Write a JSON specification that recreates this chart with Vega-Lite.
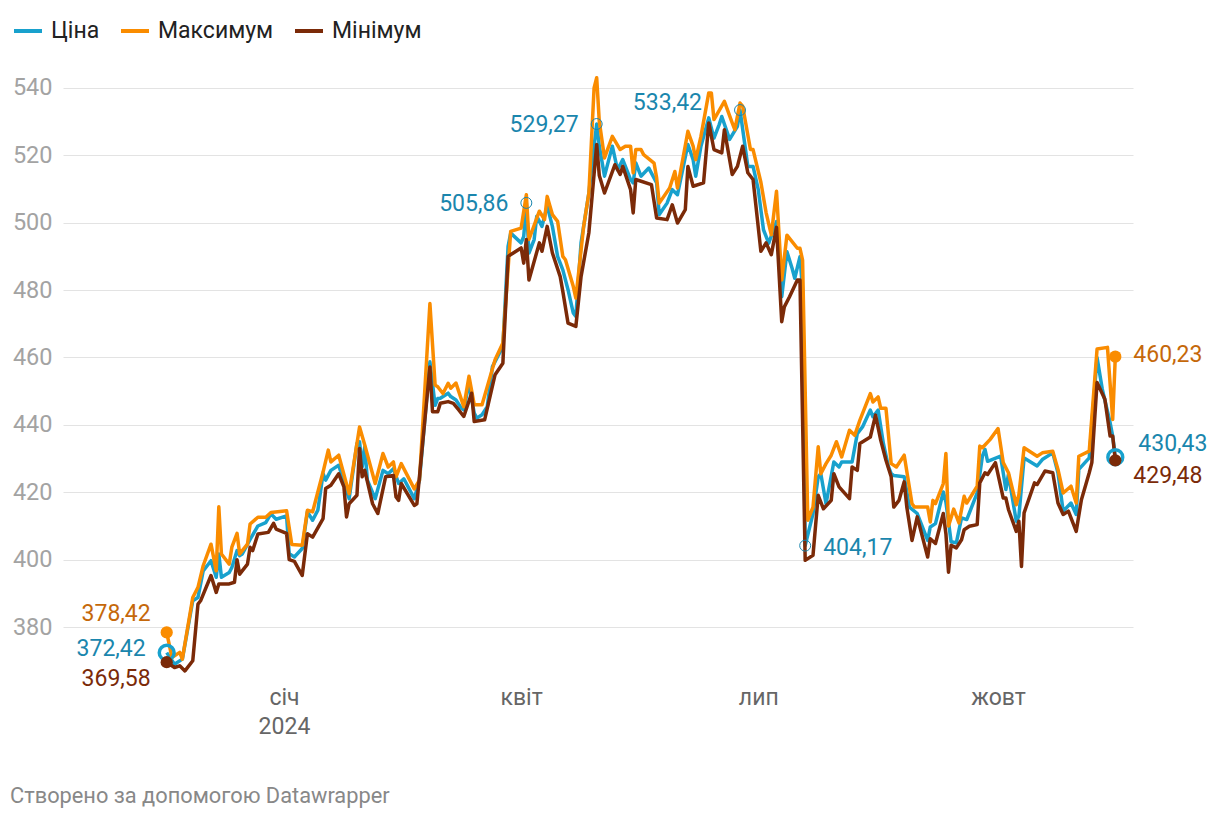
{
  "$schema": "https://vega.github.io/schema/vega-lite/v6.json",
  "width": 1070,
  "height": 610,
  "autosize": "none",
  "padding": {"left": 63, "top": 70, "right": 87, "bottom": 136},
  "background": "white",
  "config": {
    "font": "Roboto",
    "view": {"stroke": null},
    "locale": {
      "number": {"decimal": ",", "thousands": " ", "grouping": [3], "currency": ["", " ₴"]}
    }
  },
  "title": {
    "text": "Створено за допомогою Datawrapper",
    "orient": "bottom",
    "anchor": "start",
    "frame": "group",
    "dx": -53,
    "offset": 48,
    "font": "Roboto",
    "fontSize": 21.8,
    "fontWeight": "normal",
    "color": "#888888"
  },
  "datasets": {
    "series": [
      {"d": "2023-11-17", "s": "Ціна", "v": 372.42},
      {"d": "2023-11-20", "s": "Ціна", "v": 369},
      {"d": "2023-11-23", "s": "Ціна", "v": 370.5},
      {"d": "2023-11-27", "s": "Ціна", "v": 387.8},
      {"d": "2023-11-29", "s": "Ціна", "v": 388.8},
      {"d": "2023-12-01", "s": "Ціна", "v": 396.7},
      {"d": "2023-12-04", "s": "Ціна", "v": 399.7},
      {"d": "2023-12-06", "s": "Ціна", "v": 394.8},
      {"d": "2023-12-07", "s": "Ціна", "v": 401.7},
      {"d": "2023-12-08", "s": "Ціна", "v": 394.8},
      {"d": "2023-12-11", "s": "Ціна", "v": 396.2},
      {"d": "2023-12-12", "s": "Ціна", "v": 397.7},
      {"d": "2023-12-14", "s": "Ціна", "v": 402.7},
      {"d": "2023-12-15", "s": "Ціна", "v": 401.2},
      {"d": "2023-12-16", "s": "Ціна", "v": 401.7},
      {"d": "2023-12-19", "s": "Ціна", "v": 406},
      {"d": "2023-12-22", "s": "Ціна", "v": 410},
      {"d": "2023-12-25", "s": "Ціна", "v": 411},
      {"d": "2023-12-27", "s": "Ціна", "v": 413.6},
      {"d": "2023-12-29", "s": "Ціна", "v": 412},
      {"d": "2024-01-02", "s": "Ціна", "v": 413},
      {"d": "2024-01-03", "s": "Ціна", "v": 401.8},
      {"d": "2024-01-05", "s": "Ціна", "v": 400.8},
      {"d": "2024-01-08", "s": "Ціна", "v": 403.3},
      {"d": "2024-01-10", "s": "Ціна", "v": 414.2},
      {"d": "2024-01-12", "s": "Ціна", "v": 411.7},
      {"d": "2024-01-14", "s": "Ціна", "v": 414.7},
      {"d": "2024-01-16", "s": "Ціна", "v": 425.5},
      {"d": "2024-01-17", "s": "Ціна", "v": 423.6},
      {"d": "2024-01-19", "s": "Ціна", "v": 426.5},
      {"d": "2024-01-22", "s": "Ціна", "v": 428},
      {"d": "2024-01-26", "s": "Ціна", "v": 418.1},
      {"d": "2024-01-29", "s": "Ціна", "v": 434.5},
      {"d": "2024-01-30", "s": "Ціна", "v": 435},
      {"d": "2024-01-31", "s": "Ціна", "v": 427.5},
      {"d": "2024-02-01", "s": "Ціна", "v": 433.5},
      {"d": "2024-02-02", "s": "Ціна", "v": 423.6},
      {"d": "2024-02-05", "s": "Ціна", "v": 418.1},
      {"d": "2024-02-08", "s": "Ціна", "v": 426.5},
      {"d": "2024-02-10", "s": "Ціна", "v": 425.5},
      {"d": "2024-02-12", "s": "Ціна", "v": 427},
      {"d": "2024-02-14", "s": "Ціна", "v": 422.6},
      {"d": "2024-02-16", "s": "Ціна", "v": 424},
      {"d": "2024-02-20", "s": "Ціна", "v": 418.1},
      {"d": "2024-02-22", "s": "Ціна", "v": 423.6},
      {"d": "2024-02-26", "s": "Ціна", "v": 458.7},
      {"d": "2024-02-28", "s": "Ціна", "v": 445.8},
      {"d": "2024-02-29", "s": "Ціна", "v": 447.8},
      {"d": "2024-03-01", "s": "Ціна", "v": 447.9},
      {"d": "2024-03-04", "s": "Ціна", "v": 449.4},
      {"d": "2024-03-05", "s": "Ціна", "v": 448.4},
      {"d": "2024-03-07", "s": "Ціна", "v": 447.4},
      {"d": "2024-03-09", "s": "Ціна", "v": 445},
      {"d": "2024-03-10", "s": "Ціна", "v": 444.5},
      {"d": "2024-03-12", "s": "Ціна", "v": 452.4},
      {"d": "2024-03-14", "s": "Ціна", "v": 443.5},
      {"d": "2024-03-15", "s": "Ціна", "v": 442},
      {"d": "2024-03-17", "s": "Ціна", "v": 443},
      {"d": "2024-03-19", "s": "Ціна", "v": 445.4},
      {"d": "2024-03-21", "s": "Ціна", "v": 457.3},
      {"d": "2024-03-25", "s": "Ціна", "v": 463.3},
      {"d": "2024-03-27", "s": "Ціна", "v": 493},
      {"d": "2024-03-28", "s": "Ціна", "v": 496.9},
      {"d": "2024-04-01", "s": "Ціна", "v": 494},
      {"d": "2024-04-02", "s": "Ціна", "v": 495.9},
      {"d": "2024-04-03", "s": "Ціна", "v": 505.86},
      {"d": "2024-04-04", "s": "Ціна", "v": 491},
      {"d": "2024-04-06", "s": "Ціна", "v": 495},
      {"d": "2024-04-07", "s": "Ціна", "v": 501.9},
      {"d": "2024-04-09", "s": "Ціна", "v": 498.9},
      {"d": "2024-04-11", "s": "Ціна", "v": 505},
      {"d": "2024-04-13", "s": "Ціна", "v": 498.9},
      {"d": "2024-04-15", "s": "Ціна", "v": 490},
      {"d": "2024-04-17", "s": "Ціна", "v": 486},
      {"d": "2024-04-19", "s": "Ціна", "v": 480.1},
      {"d": "2024-04-21", "s": "Ціна", "v": 473.2},
      {"d": "2024-04-22", "s": "Ціна", "v": 472.2},
      {"d": "2024-04-24", "s": "Ціна", "v": 494},
      {"d": "2024-04-27", "s": "Ціна", "v": 508.8},
      {"d": "2024-04-29", "s": "Ціна", "v": 522.7},
      {"d": "2024-04-30", "s": "Ціна", "v": 529.27},
      {"d": "2024-05-01", "s": "Ціна", "v": 522.7},
      {"d": "2024-05-03", "s": "Ціна", "v": 513.8},
      {"d": "2024-05-06", "s": "Ціна", "v": 522.7},
      {"d": "2024-05-08", "s": "Ціна", "v": 515.7},
      {"d": "2024-05-10", "s": "Ціна", "v": 518.7},
      {"d": "2024-05-13", "s": "Ціна", "v": 512.8},
      {"d": "2024-05-14", "s": "Ціна", "v": 511.8},
      {"d": "2024-05-15", "s": "Ціна", "v": 517.7},
      {"d": "2024-05-17", "s": "Ціна", "v": 513.8},
      {"d": "2024-05-20", "s": "Ціна", "v": 516.2},
      {"d": "2024-05-23", "s": "Ціна", "v": 511.8},
      {"d": "2024-05-24", "s": "Ціна", "v": 502.4},
      {"d": "2024-05-27", "s": "Ціна", "v": 505.8},
      {"d": "2024-05-29", "s": "Ціна", "v": 509.8},
      {"d": "2024-05-31", "s": "Ціна", "v": 508.3},
      {"d": "2024-06-04", "s": "Ціна", "v": 523.2},
      {"d": "2024-06-06", "s": "Ціна", "v": 518.7},
      {"d": "2024-06-07", "s": "Ціна", "v": 513.8},
      {"d": "2024-06-09", "s": "Ціна", "v": 522.7},
      {"d": "2024-06-12", "s": "Ціна", "v": 531.1},
      {"d": "2024-06-14", "s": "Ціна", "v": 525.1},
      {"d": "2024-06-16", "s": "Ціна", "v": 529.1},
      {"d": "2024-06-17", "s": "Ціна", "v": 531.5},
      {"d": "2024-06-20", "s": "Ціна", "v": 524.7},
      {"d": "2024-06-23", "s": "Ціна", "v": 528.6},
      {"d": "2024-06-24", "s": "Ціна", "v": 533.42},
      {"d": "2024-06-27", "s": "Ціна", "v": 516.7},
      {"d": "2024-06-29", "s": "Ціна", "v": 516.7},
      {"d": "2024-07-01", "s": "Ціна", "v": 509.8},
      {"d": "2024-07-03", "s": "Ціна", "v": 497.9},
      {"d": "2024-07-05", "s": "Ціна", "v": 493.9},
      {"d": "2024-07-08", "s": "Ціна", "v": 500.3},
      {"d": "2024-07-10", "s": "Ціна", "v": 478},
      {"d": "2024-07-12", "s": "Ціна", "v": 491.4},
      {"d": "2024-07-14", "s": "Ціна", "v": 486.4},
      {"d": "2024-07-15", "s": "Ціна", "v": 483.5},
      {"d": "2024-07-17", "s": "Ціна", "v": 489.9},
      {"d": "2024-07-18", "s": "Ціна", "v": 480},
      {"d": "2024-07-19", "s": "Ціна", "v": 404.17},
      {"d": "2024-07-22", "s": "Ціна", "v": 413.7},
      {"d": "2024-07-24", "s": "Ціна", "v": 424.6},
      {"d": "2024-07-25", "s": "Ціна", "v": 425.5},
      {"d": "2024-07-27", "s": "Ціна", "v": 416.6},
      {"d": "2024-07-30", "s": "Ціна", "v": 429},
      {"d": "2024-08-01", "s": "Ціна", "v": 427.5},
      {"d": "2024-08-02", "s": "Ціна", "v": 429},
      {"d": "2024-08-06", "s": "Ціна", "v": 429},
      {"d": "2024-08-08", "s": "Ціна", "v": 437.4},
      {"d": "2024-08-10", "s": "Ціна", "v": 439.4},
      {"d": "2024-08-13", "s": "Ціна", "v": 444.4},
      {"d": "2024-08-14", "s": "Ціна", "v": 442.4},
      {"d": "2024-08-16", "s": "Ціна", "v": 444.4},
      {"d": "2024-08-18", "s": "Ціна", "v": 434.5},
      {"d": "2024-08-20", "s": "Ціна", "v": 427.5},
      {"d": "2024-08-21", "s": "Ціна", "v": 425.5},
      {"d": "2024-08-22", "s": "Ціна", "v": 425},
      {"d": "2024-08-26", "s": "Ціна", "v": 424.6},
      {"d": "2024-08-28", "s": "Ціна", "v": 415.6},
      {"d": "2024-08-31", "s": "Ціна", "v": 413.7},
      {"d": "2024-09-04", "s": "Ціна", "v": 405.7},
      {"d": "2024-09-05", "s": "Ціна", "v": 409.7},
      {"d": "2024-09-07", "s": "Ціна", "v": 410.7},
      {"d": "2024-09-10", "s": "Ціна", "v": 420.1},
      {"d": "2024-09-11", "s": "Ціна", "v": 417.1},
      {"d": "2024-09-13", "s": "Ціна", "v": 405.3},
      {"d": "2024-09-15", "s": "Ціна", "v": 405},
      {"d": "2024-09-17", "s": "Ціна", "v": 412.4},
      {"d": "2024-09-19", "s": "Ціна", "v": 411.9},
      {"d": "2024-09-23", "s": "Ціна", "v": 419.8},
      {"d": "2024-09-25", "s": "Ціна", "v": 430.7},
      {"d": "2024-09-26", "s": "Ціна", "v": 432.7},
      {"d": "2024-09-27", "s": "Ціна", "v": 429.2},
      {"d": "2024-10-02", "s": "Ціна", "v": 430.7},
      {"d": "2024-10-04", "s": "Ціна", "v": 420.8},
      {"d": "2024-10-05", "s": "Ціна", "v": 425.3},
      {"d": "2024-10-08", "s": "Ціна", "v": 411.4},
      {"d": "2024-10-09", "s": "Ціна", "v": 412.9},
      {"d": "2024-10-11", "s": "Ціна", "v": 430.2},
      {"d": "2024-10-16", "s": "Ціна", "v": 427.8},
      {"d": "2024-10-18", "s": "Ціна", "v": 429.7},
      {"d": "2024-10-22", "s": "Ціна", "v": 431.7},
      {"d": "2024-10-24", "s": "Ціна", "v": 425.8},
      {"d": "2024-10-26", "s": "Ціна", "v": 414.4},
      {"d": "2024-10-29", "s": "Ціна", "v": 416.8},
      {"d": "2024-10-31", "s": "Ціна", "v": 413.4},
      {"d": "2024-11-01", "s": "Ціна", "v": 426.8},
      {"d": "2024-11-05", "s": "Ціна", "v": 430.2},
      {"d": "2024-11-08", "s": "Ціна", "v": 460},
      {"d": "2024-11-10", "s": "Ціна", "v": 450.6},
      {"d": "2024-11-13", "s": "Ціна", "v": 440.7},
      {"d": "2024-11-14", "s": "Ціна", "v": 436.7},
      {"d": "2024-11-15", "s": "Ціна", "v": 430.43},

      {"d": "2023-11-17", "s": "Максимум", "v": 378.42},
      {"d": "2023-11-19", "s": "Максимум", "v": 371},
      {"d": "2023-11-22", "s": "Максимум", "v": 372.5},
      {"d": "2023-11-23", "s": "Максимум", "v": 370.5},
      {"d": "2023-11-27", "s": "Максимум", "v": 388.8},
      {"d": "2023-11-29", "s": "Максимум", "v": 391.8},
      {"d": "2023-12-01", "s": "Максимум", "v": 398.2},
      {"d": "2023-12-04", "s": "Максимум", "v": 404.6},
      {"d": "2023-12-06", "s": "Максимум", "v": 396.7},
      {"d": "2023-12-07", "s": "Максимум", "v": 415.7},
      {"d": "2023-12-08", "s": "Максимум", "v": 401.7},
      {"d": "2023-12-11", "s": "Максимум", "v": 398.7},
      {"d": "2023-12-12", "s": "Максимум", "v": 403.7},
      {"d": "2023-12-14", "s": "Максимум", "v": 407.8},
      {"d": "2023-12-15", "s": "Максимум", "v": 401.7},
      {"d": "2023-12-18", "s": "Максимум", "v": 404.6},
      {"d": "2023-12-19", "s": "Максимум", "v": 410.6},
      {"d": "2023-12-22", "s": "Максимум", "v": 412.6},
      {"d": "2023-12-25", "s": "Максимум", "v": 412.6},
      {"d": "2023-12-27", "s": "Максимум", "v": 414},
      {"d": "2024-01-02", "s": "Максимум", "v": 414.5},
      {"d": "2024-01-04", "s": "Максимум", "v": 404.5},
      {"d": "2024-01-08", "s": "Максимум", "v": 404.3},
      {"d": "2024-01-10", "s": "Максимум", "v": 414.7},
      {"d": "2024-01-12", "s": "Максимум", "v": 414.2},
      {"d": "2024-01-16", "s": "Максимум", "v": 426},
      {"d": "2024-01-18", "s": "Максимум", "v": 432.5},
      {"d": "2024-01-19", "s": "Максимум", "v": 429},
      {"d": "2024-01-22", "s": "Максимум", "v": 431},
      {"d": "2024-01-26", "s": "Максимум", "v": 419.6},
      {"d": "2024-01-30", "s": "Максимум", "v": 439.4},
      {"d": "2024-02-01", "s": "Максимум", "v": 434},
      {"d": "2024-02-05", "s": "Максимум", "v": 422.6},
      {"d": "2024-02-08", "s": "Максимум", "v": 431.5},
      {"d": "2024-02-10", "s": "Максимум", "v": 427.5},
      {"d": "2024-02-12", "s": "Максимум", "v": 429},
      {"d": "2024-02-13", "s": "Максимум", "v": 424.6},
      {"d": "2024-02-15", "s": "Максимум", "v": 428.5},
      {"d": "2024-02-20", "s": "Максимум", "v": 421},
      {"d": "2024-02-22", "s": "Максимум", "v": 423.6},
      {"d": "2024-02-26", "s": "Максимум", "v": 476},
      {"d": "2024-02-28", "s": "Максимум", "v": 451.8},
      {"d": "2024-02-29", "s": "Максимум", "v": 451.3},
      {"d": "2024-03-02", "s": "Максимум", "v": 449.3},
      {"d": "2024-03-04", "s": "Максимум", "v": 452.3},
      {"d": "2024-03-05", "s": "Максимум", "v": 450.9},
      {"d": "2024-03-07", "s": "Максимум", "v": 452.4},
      {"d": "2024-03-10", "s": "Максимум", "v": 445.4},
      {"d": "2024-03-12", "s": "Максимум", "v": 454.4},
      {"d": "2024-03-14", "s": "Максимум", "v": 446},
      {"d": "2024-03-17", "s": "Максимум", "v": 446},
      {"d": "2024-03-22", "s": "Максимум", "v": 459.3},
      {"d": "2024-03-25", "s": "Максимум", "v": 464.3},
      {"d": "2024-03-28", "s": "Максимум", "v": 497.4},
      {"d": "2024-04-01", "s": "Максимум", "v": 498.4},
      {"d": "2024-04-03", "s": "Максимум", "v": 508.3},
      {"d": "2024-04-04", "s": "Максимум", "v": 495},
      {"d": "2024-04-08", "s": "Максимум", "v": 503.4},
      {"d": "2024-04-10", "s": "Максимум", "v": 500.9},
      {"d": "2024-04-11", "s": "Максимум", "v": 507.8},
      {"d": "2024-04-13", "s": "Максимум", "v": 502.4},
      {"d": "2024-04-15", "s": "Максимум", "v": 500.4},
      {"d": "2024-04-17", "s": "Максимум", "v": 490},
      {"d": "2024-04-18", "s": "Максимум", "v": 489},
      {"d": "2024-04-21", "s": "Максимум", "v": 481.1},
      {"d": "2024-04-22", "s": "Максимум", "v": 477.6},
      {"d": "2024-04-25", "s": "Максимум", "v": 498.9},
      {"d": "2024-04-27", "s": "Максимум", "v": 508.8},
      {"d": "2024-04-29", "s": "Максимум", "v": 540},
      {"d": "2024-04-30", "s": "Максимум", "v": 543},
      {"d": "2024-05-01", "s": "Максимум", "v": 530},
      {"d": "2024-05-03", "s": "Максимум", "v": 519.2},
      {"d": "2024-05-06", "s": "Максимум", "v": 525.6},
      {"d": "2024-05-09", "s": "Максимум", "v": 521.7},
      {"d": "2024-05-11", "s": "Максимум", "v": 522.7},
      {"d": "2024-05-13", "s": "Максимум", "v": 522.7},
      {"d": "2024-05-14", "s": "Максимум", "v": 514.8},
      {"d": "2024-05-15", "s": "Максимум", "v": 521.7},
      {"d": "2024-05-17", "s": "Максимум", "v": 521.7},
      {"d": "2024-05-18", "s": "Максимум", "v": 520.2},
      {"d": "2024-05-22", "s": "Максимум", "v": 517.7},
      {"d": "2024-05-23", "s": "Максимум", "v": 513.3},
      {"d": "2024-05-24", "s": "Максимум", "v": 505.8},
      {"d": "2024-05-28", "s": "Максимум", "v": 510.3},
      {"d": "2024-05-30", "s": "Максимум", "v": 515.2},
      {"d": "2024-05-31", "s": "Максимум", "v": 510.3},
      {"d": "2024-06-04", "s": "Максимум", "v": 527.1},
      {"d": "2024-06-06", "s": "Максимум", "v": 522.7},
      {"d": "2024-06-07", "s": "Максимум", "v": 518.7},
      {"d": "2024-06-09", "s": "Максимум", "v": 525.6},
      {"d": "2024-06-12", "s": "Максимум", "v": 538.5},
      {"d": "2024-06-13", "s": "Максимум", "v": 538.5},
      {"d": "2024-06-14", "s": "Максимум", "v": 530.6},
      {"d": "2024-06-18", "s": "Максимум", "v": 536},
      {"d": "2024-06-21", "s": "Максимум", "v": 529.6},
      {"d": "2024-06-22", "s": "Максимум", "v": 527.6},
      {"d": "2024-06-24", "s": "Максимум", "v": 535.5},
      {"d": "2024-06-25", "s": "Максимум", "v": 534.6},
      {"d": "2024-06-28", "s": "Максимум", "v": 521.7},
      {"d": "2024-06-29", "s": "Максимум", "v": 521.7},
      {"d": "2024-07-02", "s": "Максимум", "v": 512},
      {"d": "2024-07-04", "s": "Максимум", "v": 503},
      {"d": "2024-07-06", "s": "Максимум", "v": 496.4},
      {"d": "2024-07-08", "s": "Максимум", "v": 509.3},
      {"d": "2024-07-10", "s": "Максимум", "v": 483},
      {"d": "2024-07-12", "s": "Максимум", "v": 496.3},
      {"d": "2024-07-16", "s": "Максимум", "v": 492.4},
      {"d": "2024-07-17", "s": "Максимум", "v": 492.4},
      {"d": "2024-07-18", "s": "Максимум", "v": 488.9},
      {"d": "2024-07-20", "s": "Максимум", "v": 411.7},
      {"d": "2024-07-22", "s": "Максимум", "v": 415.6},
      {"d": "2024-07-24", "s": "Максимум", "v": 433.5},
      {"d": "2024-07-25", "s": "Максимум", "v": 425.5},
      {"d": "2024-07-27", "s": "Максимум", "v": 428.5},
      {"d": "2024-07-29", "s": "Максимум", "v": 431},
      {"d": "2024-07-31", "s": "Максимум", "v": 435},
      {"d": "2024-08-02", "s": "Максимум", "v": 430.5},
      {"d": "2024-08-05", "s": "Максимум", "v": 438.4},
      {"d": "2024-08-07", "s": "Максимум", "v": 436.9},
      {"d": "2024-08-09", "s": "Максимум", "v": 441.4},
      {"d": "2024-08-13", "s": "Максимум", "v": 449.3},
      {"d": "2024-08-14", "s": "Максимум", "v": 446.8},
      {"d": "2024-08-16", "s": "Максимум", "v": 448.3},
      {"d": "2024-08-17", "s": "Максимум", "v": 444.9},
      {"d": "2024-08-19", "s": "Максимум", "v": 444.9},
      {"d": "2024-08-21", "s": "Максимум", "v": 428.5},
      {"d": "2024-08-23", "s": "Максимум", "v": 427.5},
      {"d": "2024-08-26", "s": "Максимум", "v": 431},
      {"d": "2024-08-29", "s": "Максимум", "v": 416.6},
      {"d": "2024-08-30", "s": "Максимум", "v": 415.6},
      {"d": "2024-09-04", "s": "Максимум", "v": 415.6},
      {"d": "2024-09-05", "s": "Максимум", "v": 411.2},
      {"d": "2024-09-06", "s": "Максимум", "v": 417.6},
      {"d": "2024-09-07", "s": "Максимум", "v": 416.6},
      {"d": "2024-09-10", "s": "Максимум", "v": 422.6},
      {"d": "2024-09-11", "s": "Максимум", "v": 431.5},
      {"d": "2024-09-12", "s": "Максимум", "v": 410},
      {"d": "2024-09-14", "s": "Максимум", "v": 415},
      {"d": "2024-09-16", "s": "Максимум", "v": 410.9},
      {"d": "2024-09-18", "s": "Максимум", "v": 418.8},
      {"d": "2024-09-19", "s": "Максимум", "v": 416.8},
      {"d": "2024-09-23", "s": "Максимум", "v": 421.8},
      {"d": "2024-09-24", "s": "Максимум", "v": 433.7},
      {"d": "2024-09-25", "s": "Максимум", "v": 433.2},
      {"d": "2024-09-28", "s": "Максимум", "v": 435.7},
      {"d": "2024-10-01", "s": "Максимум", "v": 438.9},
      {"d": "2024-10-03", "s": "Максимум", "v": 428.8},
      {"d": "2024-10-05", "s": "Максимум", "v": 425.8},
      {"d": "2024-10-08", "s": "Максимум", "v": 416.3},
      {"d": "2024-10-09", "s": "Максимум", "v": 419.3},
      {"d": "2024-10-11", "s": "Максимум", "v": 433.2},
      {"d": "2024-10-16", "s": "Максимум", "v": 430.7},
      {"d": "2024-10-18", "s": "Максимум", "v": 431.7},
      {"d": "2024-10-22", "s": "Максимум", "v": 432.2},
      {"d": "2024-10-24", "s": "Максимум", "v": 426.8},
      {"d": "2024-10-26", "s": "Максимум", "v": 419.8},
      {"d": "2024-10-29", "s": "Максимум", "v": 421.8},
      {"d": "2024-10-31", "s": "Максимум", "v": 416.8},
      {"d": "2024-11-01", "s": "Максимум", "v": 430.7},
      {"d": "2024-11-05", "s": "Максимум", "v": 432.2},
      {"d": "2024-11-08", "s": "Максимум", "v": 462.5},
      {"d": "2024-11-12", "s": "Максимум", "v": 463},
      {"d": "2024-11-14", "s": "Максимум", "v": 441.6},
      {"d": "2024-11-15", "s": "Максимум", "v": 460.23},

      {"d": "2023-11-17", "s": "Мінімум", "v": 369.58},
      {"d": "2023-11-20", "s": "Мінімум", "v": 368},
      {"d": "2023-11-22", "s": "Мінімум", "v": 368.5},
      {"d": "2023-11-24", "s": "Мінімум", "v": 367},
      {"d": "2023-11-27", "s": "Мінімум", "v": 370},
      {"d": "2023-11-29", "s": "Мінімум", "v": 386.8},
      {"d": "2023-11-30", "s": "Мінімум", "v": 387.8},
      {"d": "2023-12-04", "s": "Мінімум", "v": 395.3},
      {"d": "2023-12-06", "s": "Мінімум", "v": 390.3},
      {"d": "2023-12-07", "s": "Мінімум", "v": 392.8},
      {"d": "2023-12-11", "s": "Мінімум", "v": 392.8},
      {"d": "2023-12-13", "s": "Мінімум", "v": 393.3},
      {"d": "2023-12-14", "s": "Мінімум", "v": 400},
      {"d": "2023-12-15", "s": "Мінімум", "v": 395.7},
      {"d": "2023-12-18", "s": "Мінімум", "v": 398.7},
      {"d": "2023-12-19", "s": "Мінімум", "v": 403.7},
      {"d": "2023-12-20", "s": "Мінімум", "v": 402.7},
      {"d": "2023-12-22", "s": "Мінімум", "v": 407.6},
      {"d": "2023-12-26", "s": "Мінімум", "v": 408.1},
      {"d": "2023-12-28", "s": "Мінімум", "v": 410.8},
      {"d": "2023-12-29", "s": "Мінімум", "v": 409.1},
      {"d": "2024-01-02", "s": "Мінімум", "v": 407.8},
      {"d": "2024-01-03", "s": "Мінімум", "v": 400},
      {"d": "2024-01-05", "s": "Мінімум", "v": 399.5},
      {"d": "2024-01-08", "s": "Мінімум", "v": 395.3},
      {"d": "2024-01-10", "s": "Мінімум", "v": 407.7},
      {"d": "2024-01-12", "s": "Мінімум", "v": 406.7},
      {"d": "2024-01-16", "s": "Мінімум", "v": 412.2},
      {"d": "2024-01-17", "s": "Мінімум", "v": 421.1},
      {"d": "2024-01-19", "s": "Мінімум", "v": 422.1},
      {"d": "2024-01-22", "s": "Мінімум", "v": 425.5},
      {"d": "2024-01-24", "s": "Мінімум", "v": 421.6},
      {"d": "2024-01-25", "s": "Мінімум", "v": 412.7},
      {"d": "2024-01-26", "s": "Мінімум", "v": 416.6},
      {"d": "2024-01-29", "s": "Мінімум", "v": 419.1},
      {"d": "2024-01-30", "s": "Мінімум", "v": 433},
      {"d": "2024-01-31", "s": "Мінімум", "v": 424.6},
      {"d": "2024-02-01", "s": "Мінімум", "v": 426.5},
      {"d": "2024-02-04", "s": "Мінімум", "v": 416.6},
      {"d": "2024-02-06", "s": "Мінімум", "v": 413.7},
      {"d": "2024-02-09", "s": "Мінімум", "v": 424.6},
      {"d": "2024-02-12", "s": "Мінімум", "v": 425},
      {"d": "2024-02-13", "s": "Мінімум", "v": 418.6},
      {"d": "2024-02-14", "s": "Мінімум", "v": 417.6},
      {"d": "2024-02-15", "s": "Мінімум", "v": 422.6},
      {"d": "2024-02-20", "s": "Мінімум", "v": 416.1},
      {"d": "2024-02-21", "s": "Мінімум", "v": 416.6},
      {"d": "2024-02-26", "s": "Мінімум", "v": 457.2},
      {"d": "2024-02-27", "s": "Мінімум", "v": 443.9},
      {"d": "2024-02-29", "s": "Мінімум", "v": 443.9},
      {"d": "2024-03-01", "s": "Мінімум", "v": 446.4},
      {"d": "2024-03-04", "s": "Мінімум", "v": 446.9},
      {"d": "2024-03-06", "s": "Мінімум", "v": 446.4},
      {"d": "2024-03-08", "s": "Мінімум", "v": 444.5},
      {"d": "2024-03-10", "s": "Мінімум", "v": 442.5},
      {"d": "2024-03-13", "s": "Мінімум", "v": 449.4},
      {"d": "2024-03-14", "s": "Мінімум", "v": 441},
      {"d": "2024-03-18", "s": "Мінімум", "v": 441.5},
      {"d": "2024-03-22", "s": "Мінімум", "v": 454.9},
      {"d": "2024-03-25", "s": "Мінімум", "v": 458.3},
      {"d": "2024-03-27", "s": "Мінімум", "v": 490},
      {"d": "2024-04-01", "s": "Мінімум", "v": 492.5},
      {"d": "2024-04-02", "s": "Мінімум", "v": 488},
      {"d": "2024-04-03", "s": "Мінімум", "v": 495},
      {"d": "2024-04-04", "s": "Мінімум", "v": 483},
      {"d": "2024-04-08", "s": "Мінімум", "v": 494},
      {"d": "2024-04-09", "s": "Мінімум", "v": 491.5},
      {"d": "2024-04-11", "s": "Мінімум", "v": 498.9},
      {"d": "2024-04-13", "s": "Мінімум", "v": 491},
      {"d": "2024-04-16", "s": "Мінімум", "v": 484},
      {"d": "2024-04-17", "s": "Мінімум", "v": 479.6},
      {"d": "2024-04-19", "s": "Мінімум", "v": 470.2},
      {"d": "2024-04-22", "s": "Мінімум", "v": 469.2},
      {"d": "2024-04-24", "s": "Мінімум", "v": 484},
      {"d": "2024-04-27", "s": "Мінімум", "v": 497},
      {"d": "2024-04-30", "s": "Мінімум", "v": 523.2},
      {"d": "2024-05-01", "s": "Мінімум", "v": 514},
      {"d": "2024-05-03", "s": "Мінімум", "v": 508.8},
      {"d": "2024-05-07", "s": "Мінімум", "v": 517.2},
      {"d": "2024-05-09", "s": "Мінімум", "v": 514.3},
      {"d": "2024-05-10", "s": "Мінімум", "v": 516.7},
      {"d": "2024-05-13", "s": "Мінімум", "v": 509.8},
      {"d": "2024-05-14", "s": "Мінімум", "v": 502.9},
      {"d": "2024-05-15", "s": "Мінімум", "v": 512.8},
      {"d": "2024-05-21", "s": "Мінімум", "v": 511.3},
      {"d": "2024-05-23", "s": "Мінімум", "v": 501.4},
      {"d": "2024-05-27", "s": "Мінімум", "v": 500.9},
      {"d": "2024-05-29", "s": "Мінімум", "v": 505.3},
      {"d": "2024-05-31", "s": "Мінімум", "v": 499.9},
      {"d": "2024-06-03", "s": "Мінімум", "v": 503.9},
      {"d": "2024-06-04", "s": "Мінімум", "v": 516.7},
      {"d": "2024-06-06", "s": "Мінімум", "v": 510.8},
      {"d": "2024-06-10", "s": "Мінімум", "v": 511.8},
      {"d": "2024-06-12", "s": "Мінімум", "v": 529.6},
      {"d": "2024-06-14", "s": "Мінімум", "v": 521.7},
      {"d": "2024-06-17", "s": "Мінімум", "v": 520.7},
      {"d": "2024-06-18", "s": "Мінімум", "v": 527.6},
      {"d": "2024-06-21", "s": "Мінімум", "v": 514.3},
      {"d": "2024-06-23", "s": "Мінімум", "v": 516.7},
      {"d": "2024-06-25", "s": "Мінімум", "v": 522.7},
      {"d": "2024-06-27", "s": "Мінімум", "v": 514.8},
      {"d": "2024-06-29", "s": "Мінімум", "v": 512.8},
      {"d": "2024-07-02", "s": "Мінімум", "v": 491.5},
      {"d": "2024-07-04", "s": "Мінімум", "v": 494},
      {"d": "2024-07-06", "s": "Мінімум", "v": 490.5},
      {"d": "2024-07-08", "s": "Мінімум", "v": 498.6},
      {"d": "2024-07-10", "s": "Мінімум", "v": 470.6},
      {"d": "2024-07-11", "s": "Мінімум", "v": 475},
      {"d": "2024-07-13", "s": "Мінімум", "v": 478},
      {"d": "2024-07-16", "s": "Мінімум", "v": 483},
      {"d": "2024-07-17", "s": "Мінімум", "v": 483},
      {"d": "2024-07-19", "s": "Мінімум", "v": 399.8},
      {"d": "2024-07-22", "s": "Мінімум", "v": 401.3},
      {"d": "2024-07-24", "s": "Мінімум", "v": 419.1},
      {"d": "2024-07-26", "s": "Мінімум", "v": 415.1},
      {"d": "2024-07-29", "s": "Мінімум", "v": 417.6},
      {"d": "2024-07-30", "s": "Мінімум", "v": 425.5},
      {"d": "2024-08-01", "s": "Мінімум", "v": 421.6},
      {"d": "2024-08-05", "s": "Мінімум", "v": 418.1},
      {"d": "2024-08-06", "s": "Мінімум", "v": 427.5},
      {"d": "2024-08-08", "s": "Мінімум", "v": 426.5},
      {"d": "2024-08-09", "s": "Мінімум", "v": 434.5},
      {"d": "2024-08-13", "s": "Мінімум", "v": 436.4},
      {"d": "2024-08-15", "s": "Мінімум", "v": 442.9},
      {"d": "2024-08-17", "s": "Мінімум", "v": 435.4},
      {"d": "2024-08-19", "s": "Мінімум", "v": 429.5},
      {"d": "2024-08-21", "s": "Мінімум", "v": 424.6},
      {"d": "2024-08-22", "s": "Мінімум", "v": 415.6},
      {"d": "2024-08-24", "s": "Мінімум", "v": 417.6},
      {"d": "2024-08-26", "s": "Мінімум", "v": 423.1},
      {"d": "2024-08-27", "s": "Мінімум", "v": 415.6},
      {"d": "2024-08-29", "s": "Мінімум", "v": 405.7},
      {"d": "2024-08-31", "s": "Мінімум", "v": 412.7},
      {"d": "2024-09-04", "s": "Мінімум", "v": 400.8},
      {"d": "2024-09-05", "s": "Мінімум", "v": 406.2},
      {"d": "2024-09-07", "s": "Мінімум", "v": 404.8},
      {"d": "2024-09-10", "s": "Мінімум", "v": 413.7},
      {"d": "2024-09-11", "s": "Мінімум", "v": 407.7},
      {"d": "2024-09-12", "s": "Мінімум", "v": 396.3},
      {"d": "2024-09-13", "s": "Мінімум", "v": 404.3},
      {"d": "2024-09-15", "s": "Мінімум", "v": 403.5},
      {"d": "2024-09-17", "s": "Мінімум", "v": 405.9},
      {"d": "2024-09-18", "s": "Мінімум", "v": 408.9},
      {"d": "2024-09-20", "s": "Мінімум", "v": 409.9},
      {"d": "2024-09-23", "s": "Мінімум", "v": 410.4},
      {"d": "2024-09-24", "s": "Мінімум", "v": 422.8},
      {"d": "2024-09-26", "s": "Мінімум", "v": 425.8},
      {"d": "2024-09-27", "s": "Мінімум", "v": 425.3},
      {"d": "2024-09-30", "s": "Мінімум", "v": 428.8},
      {"d": "2024-10-03", "s": "Мінімум", "v": 418.3},
      {"d": "2024-10-04", "s": "Мінімум", "v": 418.3},
      {"d": "2024-10-05", "s": "Мінімум", "v": 414.9},
      {"d": "2024-10-08", "s": "Мінімум", "v": 408.4},
      {"d": "2024-10-09", "s": "Мінімум", "v": 411.4},
      {"d": "2024-10-10", "s": "Мінімум", "v": 398},
      {"d": "2024-10-11", "s": "Мінімум", "v": 413.9},
      {"d": "2024-10-15", "s": "Мінімум", "v": 422.8},
      {"d": "2024-10-16", "s": "Мінімум", "v": 422.3},
      {"d": "2024-10-19", "s": "Мінімум", "v": 426.3},
      {"d": "2024-10-22", "s": "Мінімум", "v": 425.8},
      {"d": "2024-10-24", "s": "Мінімум", "v": 416.8},
      {"d": "2024-10-26", "s": "Мінімум", "v": 413.4},
      {"d": "2024-10-28", "s": "Мінімум", "v": 414.4},
      {"d": "2024-10-31", "s": "Мінімум", "v": 408.4},
      {"d": "2024-11-02", "s": "Мінімум", "v": 417.8},
      {"d": "2024-11-05", "s": "Мінімум", "v": 425.8},
      {"d": "2024-11-06", "s": "Мінімум", "v": 428.8},
      {"d": "2024-11-08", "s": "Мінімум", "v": 452.6},
      {"d": "2024-11-11", "s": "Мінімум", "v": 447.6},
      {"d": "2024-11-13", "s": "Мінімум", "v": 436.7},
      {"d": "2024-11-14", "s": "Мінімум", "v": 436.7},
      {"d": "2024-11-15", "s": "Мінімум", "v": 429.48}
    ],
    "ann": [
      {"d": "2023-11-17", "s": "Максимум", "v": 378.42, "k": "start"},
      {"d": "2023-11-17", "s": "Ціна", "v": 372.42, "k": "start"},
      {"d": "2023-11-17", "s": "Мінімум", "v": 369.58, "k": "start"},
      {"d": "2024-11-15", "s": "Максимум", "v": 460.23, "k": "end"},
      {"d": "2024-11-15", "s": "Ціна", "v": 430.43, "k": "end"},
      {"d": "2024-11-15", "s": "Мінімум", "v": 429.48, "k": "end"},
      {"d": "2024-04-03", "s": "Ціна", "v": 505.86, "k": "high"},
      {"d": "2024-04-30", "s": "Ціна", "v": 529.27, "k": "high"},
      {"d": "2024-06-24", "s": "Ціна", "v": 533.42, "k": "top"},
      {"d": "2024-07-19", "s": "Ціна", "v": 404.17, "k": "low"}
    ]
  },
  "encoding": {
    "x": {
      "field": "d",
      "type": "temporal",
      "title": null,
      "scale": {
        "type": "utc",
        "domain": [
          {"year": 2023, "month": 10, "date": 8, "hours": 5, "utc": true},
          {"year": 2024, "month": 11, "date": 21, "hours": 19, "utc": true}
        ]
      },
      "axis": {
        "values": [
          {"year": 2024, "month": 1, "date": 1, "utc": true},
          {"year": 2024, "month": 4, "date": 1, "utc": true},
          {"year": 2024, "month": 7, "date": 1, "utc": true},
          {"year": 2024, "month": 10, "date": 1, "utc": true}
        ],
        "labelExpr": "utcmonth(datum.value) == 0 ? ['січ', utcFormat(datum.value, '%Y')] : ['січ','лют','бер','квіт','трав','черв','лип','серп','вер','жовт','лист','груд'][utcmonth(datum.value)]",
        "domain": false,
        "ticks": false,
        "grid": false,
        "labelFont": "Roboto",
        "labelFontSize": 23,
        "labelColor": "#666666",
        "labelPadding": 6,
        "labelLineHeight": 29,
        "labelBaseline": "top"
      }
    },
    "y": {
      "field": "v",
      "type": "quantitative",
      "title": null,
      "scale": {"domain": [364.3, 545.3], "nice": false, "zero": false},
      "axis": {
        "values": [380, 400, 420, 440, 460, 480, 500, 520, 540],
        "domain": false,
        "ticks": false,
        "grid": true,
        "gridColor": "#e3e3e3",
        "gridWidth": 1.2,
        "labelFont": "Roboto",
        "labelFontSize": 23.5,
        "labelColor": "#a3a3a3",
        "labelPadding": 11
      }
    }
  },
  "layer": [
    {
      "data": {"name": "series"},
      "transform": [{"filter": "datum.s == 'Ціна'"}],
      "mark": {"type": "line", "strokeWidth": 3.5, "strokeJoin": "round"},
      "encoding": {
        "color": {
          "field": "s",
          "type": "nominal",
          "scale": {"domain": ["Ціна", "Максимум", "Мінімум"], "range": ["#18a1cd", "#fa8c00", "#7b2a08"]},
          "legend": {
            "title": null,
            "orient": "none",
            "legendX": -51,
            "legendY": -55,
            "direction": "horizontal",
            "symbolType": "stroke",
            "symbolSize": 784,
            "symbolStrokeWidth": 4,
            "labelFont": "Roboto",
            "labelFontSize": 23,
            "labelColor": "#222222",
            "labelOffset": 7,
            "columnPadding": 13
          }
        }
      }
    },
    {
      "data": {"name": "series"},
      "transform": [{"filter": "datum.s == 'Максимум'"}],
      "mark": {"type": "line", "strokeWidth": 3.5, "strokeJoin": "round"},
      "encoding": {"color": {"field": "s", "type": "nominal"}}
    },
    {
      "data": {"name": "series"},
      "transform": [{"filter": "datum.s == 'Мінімум'"}],
      "mark": {"type": "line", "strokeWidth": 3.5, "strokeJoin": "round"},
      "encoding": {"color": {"field": "s", "type": "nominal"}}
    },
    {
      "data": {"name": "ann"},
      "transform": [{"filter": "(datum.k == 'start' || datum.k == 'end') && datum.s == 'Ціна'"}],
      "mark": {"type": "point", "filled": false, "stroke": "#18a1cd", "strokeWidth": 3.5, "size": 220, "opacity": 1}
    },
    {
      "data": {"name": "ann"},
      "transform": [{"filter": "(datum.k == 'start' || datum.k == 'end') && datum.s == 'Максимум'"}],
      "mark": {"type": "circle", "color": "#fa8c00", "size": 150, "opacity": 1}
    },
    {
      "data": {"name": "ann"},
      "transform": [{"filter": "(datum.k == 'start' || datum.k == 'end') && datum.s == 'Мінімум'"}],
      "mark": {"type": "circle", "color": "#7b2a08", "size": 150, "opacity": 1}
    },
    {
      "data": {"name": "ann"},
      "transform": [{"filter": "datum.k == 'high' || datum.k == 'top' || datum.k == 'low'"}],
      "mark": {"type": "point", "filled": false, "stroke": "#1a86ad", "strokeWidth": 1, "size": 120, "opacity": 1}
    },
    {
      "data": {"name": "ann"},
      "transform": [{"filter": "datum.k == 'high'"}],
      "mark": {"type": "text", "align": "right", "baseline": "middle", "dx": -18, "dy": 1, "font": "Roboto", "fontSize": 23, "color": "#1a86ad"},
      "encoding": {"text": {"field": "v", "type": "quantitative", "format": ".2f"}}
    },
    {
      "data": {"name": "ann"},
      "transform": [{"filter": "datum.k == 'top'"}],
      "mark": {"type": "text", "align": "right", "baseline": "middle", "dx": -38, "dy": -7, "font": "Roboto", "fontSize": 23, "color": "#1a86ad"},
      "encoding": {"text": {"field": "v", "type": "quantitative", "format": ".2f"}}
    },
    {
      "data": {"name": "ann"},
      "transform": [{"filter": "datum.k == 'low'"}],
      "mark": {"type": "text", "align": "left", "baseline": "middle", "dx": 18, "dy": 2, "font": "Roboto", "fontSize": 23, "color": "#1a86ad"},
      "encoding": {"text": {"field": "v", "type": "quantitative", "format": ".2f"}}
    },
    {
      "data": {"name": "ann"},
      "transform": [{"filter": "datum.k == 'start' && datum.s == 'Максимум'"}],
      "mark": {"type": "text", "align": "right", "baseline": "middle", "dx": -16, "dy": -18, "font": "Roboto", "fontSize": 23, "color": "#c5680a"},
      "encoding": {"text": {"field": "v", "type": "quantitative", "format": ".2f"}}
    },
    {
      "data": {"name": "ann"},
      "transform": [{"filter": "datum.k == 'start' && datum.s == 'Ціна'"}],
      "mark": {"type": "text", "align": "right", "baseline": "middle", "dx": -21, "dy": -4, "font": "Roboto", "fontSize": 23, "color": "#1a86ad"},
      "encoding": {"text": {"field": "v", "type": "quantitative", "format": ".2f"}}
    },
    {
      "data": {"name": "ann"},
      "transform": [{"filter": "datum.k == 'start' && datum.s == 'Мінімум'"}],
      "mark": {"type": "text", "align": "right", "baseline": "middle", "dx": -16, "dy": 17, "font": "Roboto", "fontSize": 23, "color": "#7b2a08"},
      "encoding": {"text": {"field": "v", "type": "quantitative", "format": ".2f"}}
    },
    {
      "data": {"name": "ann"},
      "transform": [{"filter": "datum.k == 'end' && datum.s == 'Максимум'"}],
      "mark": {"type": "text", "align": "left", "baseline": "middle", "dx": 18, "dy": -2, "font": "Roboto", "fontSize": 23, "color": "#c5680a"},
      "encoding": {"text": {"field": "v", "type": "quantitative", "format": ".2f"}}
    },
    {
      "data": {"name": "ann"},
      "transform": [{"filter": "datum.k == 'end' && datum.s == 'Ціна'"}],
      "mark": {"type": "text", "align": "left", "baseline": "middle", "dx": 23, "dy": -13, "font": "Roboto", "fontSize": 23, "color": "#1a86ad"},
      "encoding": {"text": {"field": "v", "type": "quantitative", "format": ".2f"}}
    },
    {
      "data": {"name": "ann"},
      "transform": [{"filter": "datum.k == 'end' && datum.s == 'Мінімум'"}],
      "mark": {"type": "text", "align": "left", "baseline": "middle", "dx": 18, "dy": 16, "font": "Roboto", "fontSize": 23, "color": "#7b2a08"},
      "encoding": {"text": {"field": "v", "type": "quantitative", "format": ".2f"}}
    }
  ]
}
